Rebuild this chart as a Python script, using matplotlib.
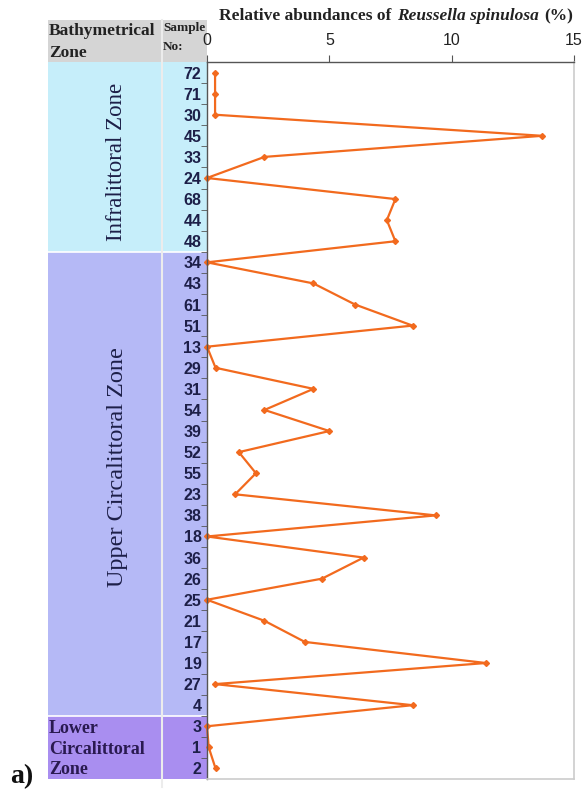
#!/usr/bin/env python3
import numpy as np
import matplotlib
matplotlib.use("Agg")
import matplotlib.pyplot as plt
from matplotlib.patches import Rectangle
from matplotlib.lines import Line2D
from matplotlib.offsetbox import TextArea, HPacker, AnnotationBbox

# data (top to bottom)
samples = ["72", "71", "30", "45", "33", "24", "68", "44", "48",
           "34", "43", "61", "51", "13", "29", "31", "54", "39", "52", "55", "23",
           "38", "18", "36", "26", "25", "21", "17", "19", "27", "4",
           "3", "1", "2"]
abundance = [0.33, 0.33, 0.33, 13.7, 2.35, 0.0, 7.7, 7.35, 7.7,
             0.0, 4.35, 6.05, 8.4, 0.0, 0.35, 4.35, 2.35, 5.0, 1.3, 2.0, 1.15,
             9.35, 0.0, 6.4, 4.7, 0.0, 2.35, 4.0, 11.4, 0.33, 8.4,
             0.0, 0.07, 0.35]
zones = ["Infralittoral Zone", "Upper Circalittoral Zone", "Lower\nCircalittoral\nZone"]
zone_counts = [9, 22, 3]
zone_colors = ["#c6eefa", "#b5b9f6", "#a98ef0"]
xticks = [0, 5, 10, 15]

W, H = 585, 798
def fx(x): return x / W
def fy(y): return 1 - y / H

serif = "Liberation Serif"
sans = "Liberation Sans"
navy = "#1d1f48"

fig = plt.figure(figsize=(W / 100, H / 100), dpi=100)

nrows = len(samples)
rows = np.arange(nrows)

# table (zone + sample columns)
ax_t = fig.add_axes([fx(48), fy(779), fx(207) - fx(48), fy(62) - fy(779)])
ax_t.set_xlim(48, 207)
ax_t.set_ylim(nrows - 0.5, -0.5)
ax_t.axis("off")
start = 0
for z, n, c in zip(zones, zone_counts, zone_colors):
    ax_t.add_patch(Rectangle((48, start - 0.5), 159, n, facecolor=c, edgecolor="none"))
    if start > 0:
        ax_t.plot([48, 207], [start - 0.5, start - 0.5], color="white", lw=1.2)
    start += n

# header
ax_h = fig.add_axes([fx(48), fy(62), fx(207) - fx(48), fy(20) - fy(62)])
ax_h.set_xlim(48, 207)
ax_h.set_ylim(62, 20)
ax_h.axis("off")
ax_h.add_patch(Rectangle((48, 20), 159, 42, facecolor="#d5d5d5", edgecolor="none"))

# column separator
fig.add_artist(Line2D([fx(162), fx(162)], [fy(20), fy(787)], color="#ececec", lw=1.5))

fig.text(fx(49), fy(31), "Bathymetrical", family=serif, weight="bold", fontsize=12.5,
         color="#222222", va="center", ha="left")
fig.text(fx(49), fy(53), "Zone", family=serif, weight="bold", fontsize=12.5,
         color="#222222", va="center", ha="left")
fig.text(fx(163), fy(28), "Sample", family=serif, weight="bold", fontsize=9.5,
         color="#222222", va="center", ha="left")
fig.text(fx(163), fy(47), "No:", family=serif, weight="bold", fontsize=9.5,
         color="#222222", va="center", ha="left")

# zone names
fig.text(fx(117), fy(162), zones[0], family=serif, fontsize=16.5, rotation=90,
         color=navy, va="center", ha="center")
fig.text(fx(117), fy(467), zones[1], family=serif, fontsize=17.5, rotation=90,
         color=navy, va="center", ha="center")
fig.text(fx(49), fy(749), zones[2], family=serif, weight="bold", fontsize=13,
         color="#2a1a50", va="center", ha="left", linespacing=1.25)

# main plot
ax = fig.add_axes([fx(207), fy(779), fx(574) - fx(207), fy(62) - fy(779)])
ax.plot(abundance, rows, color="#f26a1e", lw=1.6, marker="D", ms=3, clip_on=False)
ax.set_xlim(0, 15)
ax.set_ylim(nrows - 0.5, -0.5)
ax.xaxis.tick_top()
ax.set_xticks(xticks)
ax.set_xticklabels([str(t) for t in xticks], family=sans, fontsize=11.5, color="#222222")
ax.tick_params(axis="x", direction="out", length=5, color="#555555", pad=5)
ax.set_yticks(rows)
ax.set_yticklabels(samples, family=sans, weight="bold", fontsize=11.5, color=navy)
ax.set_yticks(np.arange(0.5, nrows - 1, 1), minor=True)
ax.tick_params(axis="y", which="major", length=0, pad=4)
ax.tick_params(axis="y", which="minor", length=4, direction="out", color="#555555")
for s in ["top", "left"]:
    ax.spines[s].set_color("#555555")
    ax.spines[s].set_linewidth(1)
for s in ["right", "bottom"]:
    ax.spines[s].set_color("#cccccc")
    ax.spines[s].set_linewidth(1.2)

# title with italic species name
tp = dict(family=serif, weight="bold", fontsize=12.5, color="#222222")
title = HPacker(children=[TextArea("Relative abundances of", textprops=tp),
                          TextArea("Reussella spinulosa", textprops=dict(tp, style="italic")),
                          TextArea("(%)", textprops=tp)],
                align="baseline", pad=0, sep=4)
fig.add_artist(AnnotationBbox(title, (fx(396), fy(16)), xycoords="figure fraction",
                              frameon=False, box_alignment=(0.5, 0.5)))

fig.text(fx(10), fy(777), "a)", family=serif, weight="bold", fontsize=20,
         color="#111111", va="center", ha="left")

plt.savefig("out.png", dpi=100)
